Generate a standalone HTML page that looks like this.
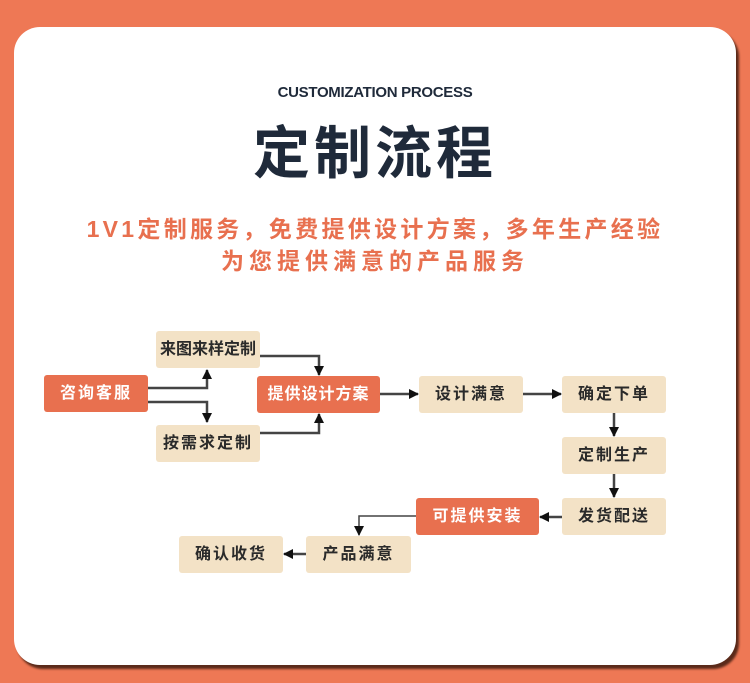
<!DOCTYPE html>
<html><head><meta charset="utf-8"><style>
body{margin:0;width:750px;height:683px;background:#EE7855;position:relative;overflow:hidden;font-family:"Liberation Sans","Noto Sans CJK SC",sans-serif}
.card{position:absolute;left:14px;top:27px;width:722px;height:638px;background:#fff;border-radius:26px;box-shadow:3px 4px 2px #5a2a1a}
.t{position:absolute;left:0;width:750px;text-align:center}
.b{position:absolute;height:37px;line-height:37px;text-align:center;font-size:16px;font-weight:bold;letter-spacing:2px;color:#2a2a2a;background:#F3E2C6;border-radius:3px}
.o{background:#E8704F;color:#fff}
</style></head><body>
<div class="card"></div>
<div class="t" style="top:84px;font-size:15px;color:#1f2a3a;font-weight:bold;letter-spacing:-0.3px">CUSTOMIZATION PROCESS</div>
<div class="t" style="top:108px;font-size:57px;font-weight:bold;color:#1f2a3a;letter-spacing:4px;font-family:'Noto Sans CJK SC',sans-serif">定制流程</div>
<div class="t" style="top:210px;font-size:23px;font-weight:bold;color:#E8704F;letter-spacing:3.3px">1V1定制服务，免费提供设计方案，多年生产经验</div>
<div class="t" style="top:242px;font-size:23px;font-weight:bold;color:#E8704F;letter-spacing:5px">为您提供满意的产品服务</div>
<svg style="position:absolute;left:0;top:0" width="750" height="683">
<defs><marker id="a" markerWidth="10" markerHeight="10" refX="9" refY="5" orient="auto" markerUnits="userSpaceOnUse"><path d="M0,0L10,5L0,10z" fill="#111"/></marker></defs>
<g stroke="#444" stroke-width="2.5" fill="none" marker-end="url(#a)">
<path d="M148,388H207V370"/>
<path d="M148,402H207V422"/>
<path d="M260,356H319V375"/>
<path d="M260,433H319V414"/>
<path d="M380,394H418"/>
<path d="M523,394H561"/>
<path d="M614,413V436"/>
<path d="M614,474V497"/>
<path d="M562,517H540"/>
<path d="M416,516H359V535" stroke-width="1.5"/>
<path d="M306,554H284"/>
</g></svg>
<div class="b o" style="left:44px;top:375px;width:104px">咨询客服</div>
<div class="b" style="left:156px;top:331px;width:104px;letter-spacing:0">来图来样定制</div>
<div class="b" style="left:156px;top:425px;width:104px">按需求定制</div>
<div class="b o" style="left:257px;top:376px;width:123px;letter-spacing:1px">提供设计方案</div>
<div class="b" style="left:419px;top:376px;width:104px">设计满意</div>
<div class="b" style="left:562px;top:376px;width:104px">确定下单</div>
<div class="b" style="left:562px;top:437px;width:104px">定制生产</div>
<div class="b" style="left:562px;top:498px;width:104px">发货配送</div>
<div class="b o" style="left:416px;top:498px;width:123px">可提供安装</div>
<div class="b" style="left:306px;top:536px;width:105px">产品满意</div>
<div class="b" style="left:179px;top:536px;width:104px">确认收货</div>
</body></html>
